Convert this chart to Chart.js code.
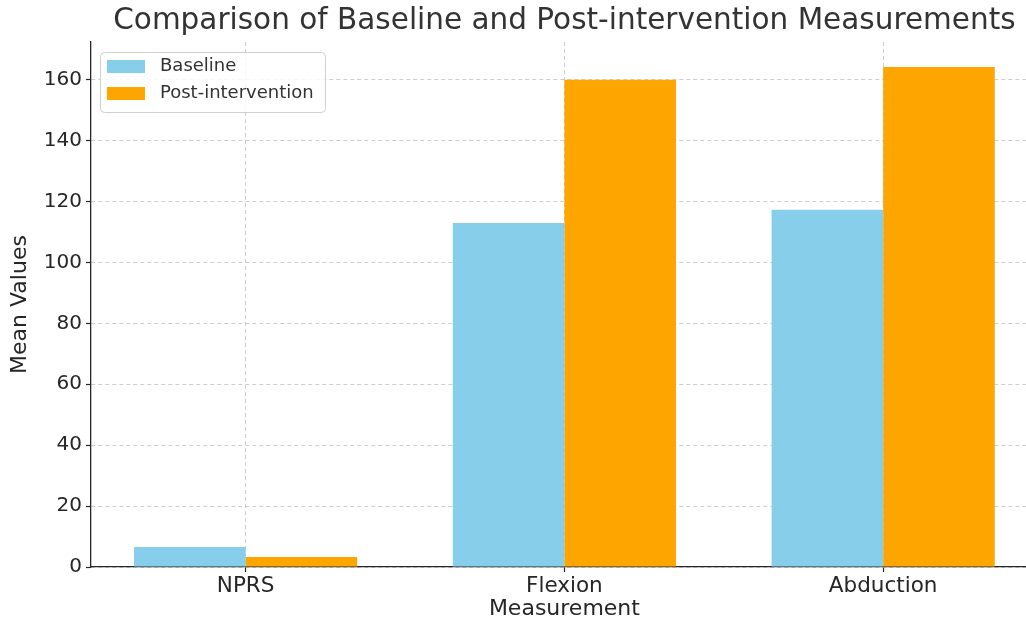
<!DOCTYPE html>
<html>
<head>
<meta charset="utf-8">
<script src="https://cdn.jsdelivr.net/npm/chart.js@4.4.1/dist/chart.umd.min.js"></script>
<style>
html,body{margin:0;padding:0;background:#fff;overflow:hidden;}
#wrap{width:1026px;height:626px;position:relative;}
</style>
</head>
<body>
<div id="wrap"><canvas id="c" width="1026" height="626"></canvas></div>
<script>
const categories = ["NPRS", "Flexion", "Abduction"];
const baseline = [6.6, 113.0, 117.3];
const postIntervention = [3.3, 160.0, 164.2];
const seriesNames = ["Baseline", "Post-intervention"];
const yTicks = [0, 20, 40, 60, 80, 100, 120, 140, 160];
const titleText = "Comparison of Baseline and Post-intervention Measurements";
const xLabelText = "Measurement";

const FONT = "'DejaVu Sans', sans-serif";
const gridColor = "rgba(190,190,190,0.75)";
const axisColor = "#262626";

const titlePlugin = {
  id: 'mplTitle',
  afterDraw(chart) {
    const ctx = chart.ctx;
    const x = chart.scales.x.getPixelForValue(1);
    ctx.save();
    ctx.font = "29.5px " + FONT;
    ctx.fillStyle = "#333333";
    ctx.textAlign = "center";
    ctx.textBaseline = "middle";
    ctx.fillText(titleText, x, 21);
    ctx.font = "22px " + FONT;
    ctx.fillStyle = axisColor;
    ctx.fillText(xLabelText, x, 609);
    ctx.restore();
  }
};

const legendPlugin = {
  id: 'mplLegend',
  afterDraw(chart) {
    const ctx = chart.ctx;
    const a = chart.chartArea;
    const x0 = a.left + 9, y0 = a.top + 10, w = 225, h = 60;
    ctx.save();
    ctx.beginPath();
    ctx.roundRect(x0 + 0.5, y0 + 0.5, w, h, 4);
    ctx.fillStyle = "rgba(255,255,255,0.85)";
    ctx.fill();
    ctx.strokeStyle = "#d0d0d0";
    ctx.lineWidth = 1;
    ctx.stroke();
    ctx.font = "18px " + FONT;
    ctx.textBaseline = "middle";
    chart.data.datasets.forEach((ds, i) => {
      const cy = y0 + 14.5 + i * 27;
      ctx.fillStyle = ds.backgroundColor;
      ctx.fillRect(x0 + 7, cy - 6.5, 38, 13);
      ctx.fillStyle = "#333333";
      ctx.textAlign = "left";
      ctx.fillText(ds.label, x0 + 60, cy);
    });
    ctx.restore();
  }
};

new Chart(document.getElementById('c'), {
  type: 'bar',
  data: {
    datasets: [
      { label: seriesNames[0], data: baseline.map((v, i) => ({x: i, y: v})), backgroundColor: '#87CEEB' },
      { label: seriesNames[1], data: postIntervention.map((v, i) => ({x: i, y: v})), backgroundColor: '#FFA500' }
    ]
  },
  options: {
    responsive: false,
    animation: false,
    devicePixelRatio: 1,
    layout: { padding: { top: 42, right: 0, left: 0, bottom: 0 } },
    datasets: { bar: { categoryPercentage: 0.7, barPercentage: 1.0, borderWidth: 0 } },
    plugins: { legend: { display: false }, title: { display: false }, tooltip: { enabled: false } },
    scales: {
      x: {
        type: 'linear',
        offset: false,
        min: -0.485,
        max: 2.448,
        afterBuildTicks(s) { s.ticks = categories.map((c, i) => ({ value: i })); },
        afterFit(s) { s.height = 59; },
        ticks: {
          includeBounds: false,
          autoSkip: false,
          maxRotation: 0,
          padding: 2,
          color: axisColor,
          font: { family: FONT, size: 21.5 },
          callback: (v) => categories[v] ?? ''
        },
        grid: {
          offset: false,
          color: gridColor, lineWidth: 1, drawTicks: true, tickLength: 5,
          tickColor: axisColor, tickWidth: 1.2, tickBorderDash: []
        },
        border: { display: true, color: axisColor, width: 1.3, dash: [4, 3] },
        title: { display: false }
      },
      y: {
        min: 0,
        max: 172.4,
        afterBuildTicks(s) { s.ticks = yTicks.map(v => ({ value: v })); },
        afterFit(s) { s.width = 91; },
        ticks: {
          includeBounds: false,
          padding: 4,
          color: axisColor,
          font: { family: FONT, size: 20 }
        },
        grid: {
          color: gridColor, lineWidth: 1, drawTicks: true, tickLength: 5,
          tickColor: axisColor, tickWidth: 1.2, tickBorderDash: []
        },
        border: { display: true, color: axisColor, width: 1.3, dash: [4, 3] },
        title: { display: true, text: 'Mean Values', color: axisColor, font: { family: FONT, size: 22 }, padding: { top: 7, bottom: 4 } }
      }
    }
  },
  plugins: [titlePlugin, legendPlugin]
});
</script>
</body>
</html>
